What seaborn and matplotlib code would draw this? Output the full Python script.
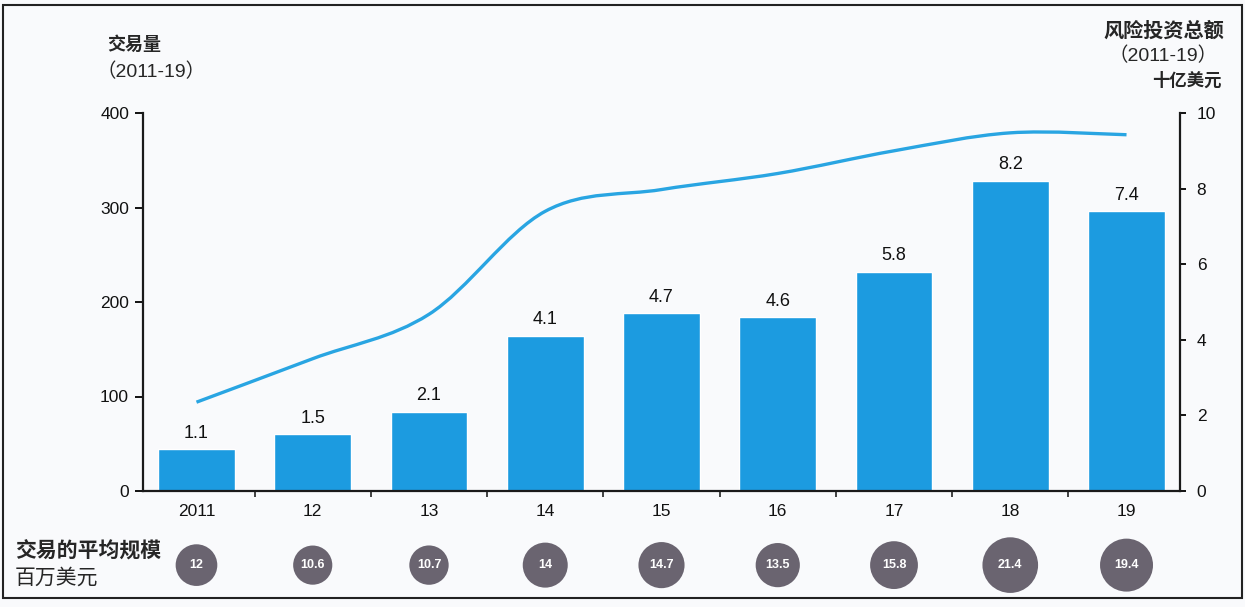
import matplotlib
matplotlib.use("Agg")
import matplotlib.pyplot as plt
import seaborn as sns
import pandas as pd
import numpy as np
from matplotlib.path import Path
from matplotlib.patches import PathPatch, Rectangle

# ---- data ----
years = ["2011", "12", "13", "14", "15", "16", "17", "18", "19"]
investment_bn = [1.1, 1.5, 2.1, 4.1, 4.7, 4.6, 5.8, 8.2, 7.4]      # bars, right axis
deal_volume = [94, 140, 187, 296, 319, 336, 360, 379, 377]         # line, left axis
avg_deal_size = [12, 10.6, 10.7, 14, 14.7, 13.5, 15.8, 21.4, 19.4]  # circles, $M
left_ticks = [0, 100, 200, 300, 400]
right_ticks = [0, 2, 4, 6, 8, 10]

sns.set_theme(style="white")
plt.rcParams["font.family"] = ["Liberation Sans", "Noto Sans CJK SC", "DejaVu Sans"]

BAR = "#1c9be0"
LINE = "#29a5e2"
CIRC = "#6a6470"
BG = "#f9fafc"
TXT = "#111111"

fig = plt.figure(figsize=(12.45, 6.07), dpi=100, facecolor=BG)
L, R = 143 / 1245, 1180 / 1245
B, T = 1 - 491 / 607, 1 - 113 / 607
ax = fig.add_axes([L, B, R - L, T - B])
ax.set_facecolor("none")
ax2 = ax.twinx()
ax2.set_facecolor("none")

df = pd.DataFrame({"year": years, "inv": investment_bn, "vol": deal_volume, "avg": avg_deal_size})

sns.barplot(data=df, x="year", y="inv", ax=ax2, color=BAR, saturation=1, width=0.66)
for i, v in enumerate(investment_bn):
    ax2.text(i, v + 0.2, f"{v}", ha="center", va="bottom", fontsize=13, color=TXT)

# smooth line for deal volume (Catmull-Rom -> Bezier in data coords)
xs = np.arange(len(deal_volume), dtype=float)
ys = np.array(deal_volume, dtype=float)
P = np.column_stack([xs, ys])
verts = [P[0]]
codes = [Path.MOVETO]
n = len(P)
for i in range(n - 1):
    p0 = P[i - 1] if i > 0 else P[i]
    p1, p2 = P[i], P[i + 1]
    p3 = P[i + 2] if i + 2 < n else P[i + 1]
    c1 = p1 + (p2 - p0) / 6
    c2 = p2 - (p3 - p1) / 6
    verts += [c1, c2, p2]
    codes += [Path.CURVE4] * 3
ax.add_patch(PathPatch(Path(verts, codes), fill=False, edgecolor=LINE, lw=2.4, zorder=5))
ax.set_zorder(ax2.get_zorder() + 1)

xlim = (-0.46, len(years) - 1 + 0.46)
ax.set_xlim(*xlim)
ax2.set_xlim(*xlim)
ax.set_ylim(0, 400)
ax2.set_ylim(0, 10)
ax.set_yticks(left_ticks)
ax2.set_yticks(right_ticks)
ax.set_xticks(range(len(years)))
ax.set_xticklabels(years)
ax.set_xticks(np.arange(0.5, len(years) - 1, 1), minor=True)
ax.tick_params(axis="x", which="major", length=0, pad=9, labelsize=12.5, colors=TXT)
ax.tick_params(axis="x", which="minor", length=4, width=1.2, color="#222222", direction="out", bottom=True)
ax.tick_params(axis="y", length=6, width=1.4, labelsize=12.5, colors=TXT, left=True, pad=4)
ax2.tick_params(axis="y", length=4, width=1.4, labelsize=12.5, colors=TXT, right=True, pad=8)
ax2.set_xlabel("")
ax2.set_ylabel("")
ax.set_xlabel("")
ax.set_ylabel("")
for a in (ax, ax2):
    a.spines["top"].set_visible(False)
    for s in ("left", "right", "bottom"):
        a.spines[s].set_color("#1a1a1a")
        a.spines[s].set_linewidth(1.6)
ax2.spines["left"].set_visible(False)
ax2.spines["bottom"].set_visible(False)
ax.spines["right"].set_visible(False)

# bottom circles row
axb = fig.add_axes([L, 0.0, R - L, 0.138])
axb.set_xlim(*xlim)
axb.set_ylim(0, 1)
axb.axis("off")
sizes = [75.0 * v for v in avg_deal_size]
axb.scatter(range(len(years)), [0.5] * len(years), s=sizes, color=CIRC, edgecolors="none")
for i, v in enumerate(avg_deal_size):
    axb.text(i, 0.5, f"{v}", ha="center", va="center", fontsize=9, color="white", fontweight="bold")

# titles / annotations
fig.text(107 / 1245, 1 - 45 / 607, "交易量", fontsize=13, fontweight="bold", ha="left", va="center")
fig.text(97 / 1245, 1 - 72 / 607, "（2011-19）", fontsize=14, ha="left", va="center")
fig.text(1224 / 1245, 1 - 31 / 607, "风险投资总额", fontsize=14.5, fontweight="bold", ha="right", va="center")
fig.text(1163 / 1245, 1 - 56 / 607, "（2011-19）", fontsize=14, ha="center", va="center")
fig.text(1222 / 1245, 1 - 80 / 607, "十亿美元", fontsize=12.5, fontweight="bold", ha="right", va="center")
fig.text(15 / 1245, 1 - 551 / 607, "交易的平均规模", fontsize=15, fontweight="bold", ha="left", va="center")
fig.text(15 / 1245, 1 - 578 / 607, "百万美元", fontsize=15, ha="left", va="center")

# page frame
fig.patches.append(Rectangle((3 / 1245, 1 - 598 / 607), 1239 / 1245, 593 / 607,
                             transform=fig.transFigure, fill=False, edgecolor="#222222", lw=1.5))

fig.savefig("out.png", dpi=100, facecolor=BG)
